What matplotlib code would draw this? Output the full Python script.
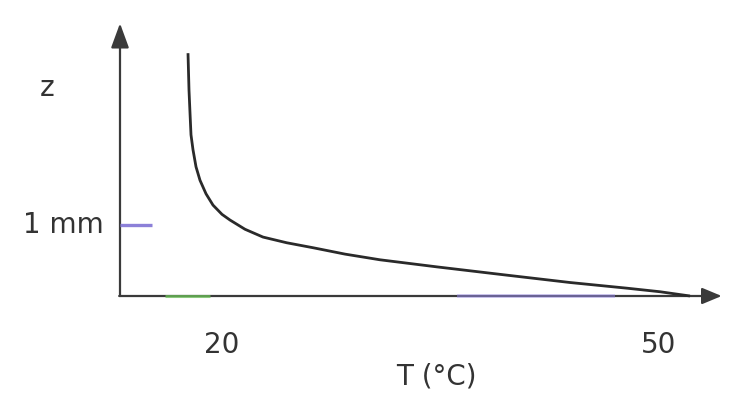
"""
Temperature profile near a heated surface: z against T.
"""

import numpy as np
import matplotlib.pyplot as plt

plt.rcParams['font.family'] = ['DejaVu Sans']

# curve (T in deg C, z in mm)
T_curve = [19.88, 19.94, 20.0, 20.06, 20.18, 20.36, 20.6, 20.96, 21.38, 21.92,
           22.4, 23.3, 24.38, 25.8, 27.38, 29.3, 31.4, 34.82, 38.78, 42.8,
           46.22, 48.2, 50.0]
z_curve = [3.42, 2.90, 2.58, 2.27, 2.06, 1.82, 1.63, 1.44, 1.28, 1.15,
           1.07, 0.94, 0.83, 0.75, 0.68, 0.59, 0.51, 0.41, 0.30, 0.19,
           0.11, 0.06, 0.0]

tick_T = [21.9, 48.1]
tick_labels = ['20', '50']
z_mark = 1.0

# axis geometry
T0, T_end = 15.8, 51.9
z0, z_end = 0.0, 3.84

fig = plt.figure(figsize=(7.35, 4.03), dpi=100)
ax = fig.add_axes([0, 0, 1, 1])
ax.set_xlim(8.6, 52.7)
ax.set_ylim(-1.507, 4.169)
ax.axis('off')

axis_col = '#3a3a3a'

# axes with arrowheads
ax.annotate('', xy=(T0, z_end), xytext=(T0, z0),
            arrowprops=dict(arrowstyle='-|>,head_length=1.5,head_width=0.55',
                            color=axis_col, lw=1.6, shrinkA=0, shrinkB=0))
ax.annotate('', xy=(T_end, z0), xytext=(T0 - 0.05, z0),
            arrowprops=dict(arrowstyle='-|>,head_length=1.2,head_width=0.5',
                            color=axis_col, lw=1.6, shrinkA=0, shrinkB=0))

# coloured bits along the axes (on top of the axis line)
ax.plot([18.5, 21.2], [z0, z0], color='#6cc05a', lw=2.2, alpha=0.75,
        solid_capstyle='butt', zorder=4)
ax.plot([36.0, 45.5], [z0, z0], color='#9a8cf0', lw=2.6, alpha=0.5,
        solid_capstyle='butt', zorder=4)
ax.plot([T0, T0 + 1.9], [z_mark, z_mark], color='#8c80d8', lw=2.4,
        solid_capstyle='butt', zorder=4)

# temperature profile
ax.plot(T_curve, z_curve, color='#2a2a2a', lw=2.0, solid_capstyle='butt',
        solid_joinstyle='round', zorder=5)

# labels
fs = 20
txt = '#333333'
ax.text(11.42, 2.93, 'z', fontsize=fs, color=txt, ha='center', va='center')
ax.text(14.8, z_mark, '1 mm', fontsize=fs, color=txt, ha='right', va='center')
for t, lab in zip(tick_T, tick_labels):
    ax.text(t, -0.69, lab, fontsize=fs, color=txt, ha='center', va='center')
ax.text(34.8, -1.14, 'T (°C)', fontsize=fs, color=txt, ha='center', va='center')

fig.savefig('out.png', dpi=100)
